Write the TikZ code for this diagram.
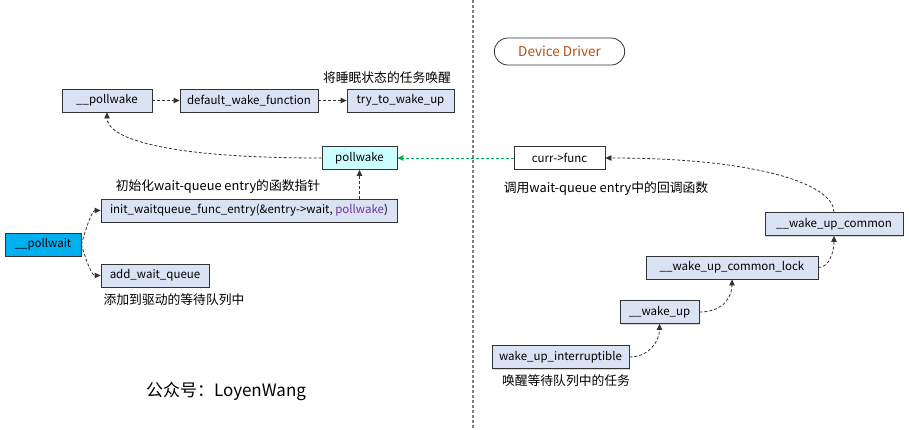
\documentclass[tikz,border=0pt]{standalone}
\usepackage{fontspec}
\setmainfont{Noto Sans CJK SC}
\usetikzlibrary{arrows.meta,shadows,shapes.misc}
\definecolor{boxfill}{RGB}{218,227,243}
\definecolor{blueone}{RGB}{0,176,240}
\definecolor{cyanone}{RGB}{204,255,255}
\definecolor{drvtext}{RGB}{180,80,20}
\definecolor{purp}{RGB}{112,48,160}
\definecolor{grn}{RGB}{0,176,80}
\begin{document}
\begin{tikzpicture}[x=1pt,y=-1pt,
  fbox/.style={draw=black!80, line width=0.8pt, fill=boxfill, minimum height=23pt, inner sep=0pt,
    font=\fontsize{11.5}{13}\selectfont,
    drop shadow={shadow xshift=1pt,shadow yshift=-1pt,opacity=0.3}},
  lbl/.style={font=\fontsize{12.8}{14}\selectfont, inner sep=0pt},
  conn/.style={draw=black!80, line width=0.8pt, dash pattern=on 3pt off 2pt,
    -{Triangle[length=6pt,width=5.5pt]}},
]
\useasboundingbox (0,0) rectangle (909,430);
\fill[white] (0,0) rectangle (909,430);
\draw[gray, line width=1.2pt, dash pattern=on 3pt off 2pt] (473,0) -- (473,430);

\node[fbox, minimum width=90pt] (pwk) at (107,100.5) {\_\_pollwake};
\node[fbox, minimum width=138pt] (dwf) at (249,100.5) {default\_wake\_function};
\node[fbox, minimum width=107pt] (ttw) at (400.5,100.5) {try\_to\_wake\_up};
\node[lbl] (l1) at (387,78) {将睡眠状态的任务唤醒};
\node[fbox, fill=cyanone, minimum width=75pt] (pw) at (359.5,158) {pollwake};
\node[lbl] (l2) at (218,187) {初始化wait-queue entry的函数指针};
\node[fbox, minimum width=296pt] (init) at (249,210.5) {init\_waitqueue\_func\_entry(\&entry->wait, \textcolor{purp}{pollwake})};
\node[fbox, fill=blueone, minimum width=76pt] (pwt) at (43,244.5) {\_\_pollwait};
\node[fbox, minimum width=108pt] (awq) at (155,275.5) {add\_wait\_queue};
\node[lbl] (l3) at (174,300) {添加到驱动的等待队列中};

\node[draw=black!80, line width=0.8pt, rounded rectangle, minimum width=137pt, minimum height=27pt,
  text=drvtext, font=\fontsize{13.5}{15}\selectfont] (dd) at (559.5,51.5) {Device Driver};
\node[fbox, fill=white, minimum width=91pt] (cf) at (559.5,158) {curr->func};
\node[lbl] (l4) at (606,189) {调用wait-queue entry中的回调函数};
\node[fbox, minimum width=138pt] (wuc) at (834,224) {\_\_wake\_up\_common};
\node[fbox, minimum width=172pt] (wucl) at (732,267.5) {\_\_wake\_up\_common\_lock};
\node[fbox, minimum width=79pt] (wu) at (659.5,312) {\_\_wake\_up};
\node[fbox, minimum width=137pt] (wui) at (560.5,357) {wake\_up\_interruptible};
\node[lbl] (l5) at (566,381) {唤醒等待队列中的任务};
\node[font=\fontsize{17}{19}\selectfont, inner sep=0pt] (wm) at (226,391) {公众号：LoyenWang};

\draw[conn] (pwk.east) -- (dwf.west);
\draw[conn] (dwf.east) -- (ttw.west);
\draw[conn] (pw.west) .. controls (150,158) and (107,135) .. (pwk.south);
\draw[conn] (init.north -| pw.south) -- (pw.south);
\draw[conn] (pwt.east) .. controls (86,228) and (92,210.5) .. (init.west);
\draw[conn] (pwt.east) .. controls (86,261) and (92,275.5) .. (awq.west);
\draw[conn, draw=grn] (cf.west) -- (pw.east);
\draw[conn] (wui.east) .. controls (650,357) and (659.5,340) .. (wu.south);
\draw[conn] (wu.east) .. controls (725,312) and (732,295) .. (wucl.south);
\draw[conn] (wucl.east) .. controls (830,267.5) and (834,250) .. (wuc.south);
\draw[conn] (wuc.north) .. controls (834,185) and (760,158) .. (cf.east);
\end{tikzpicture}
\end{document}
